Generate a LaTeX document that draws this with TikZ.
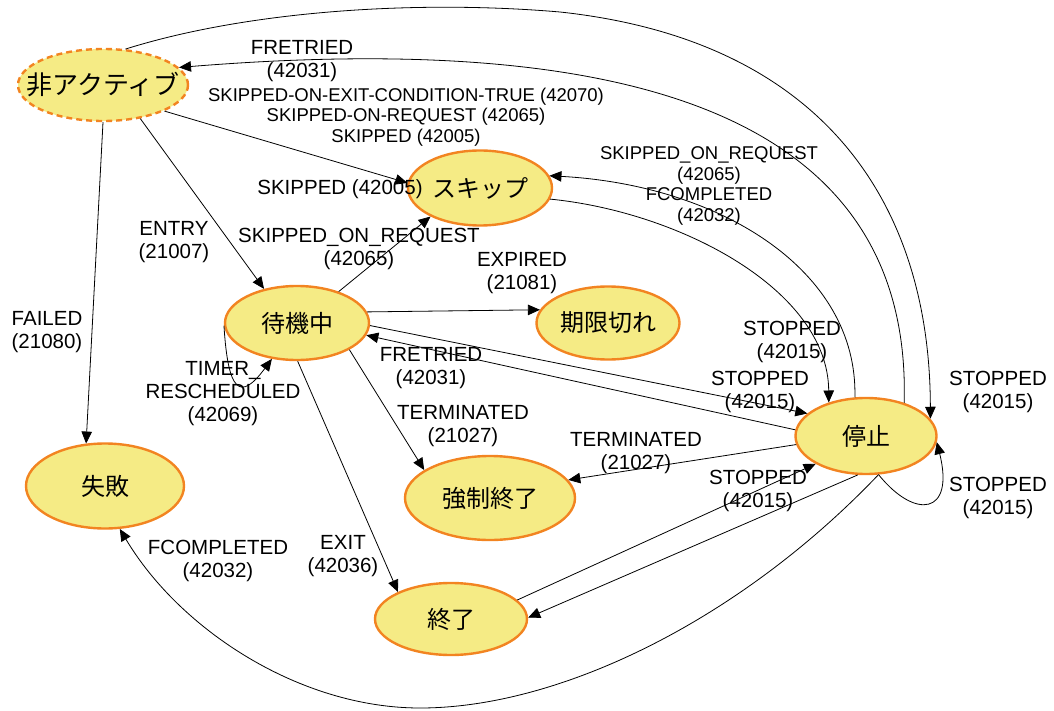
\documentclass[tikz,border=0pt]{standalone}
\usepackage{fontspec}
\setmainfont{Liberation Sans}
\newfontfamily\jp{Noto Sans CJK JP}
\usepackage{tikz}
\usetikzlibrary{arrows.meta,shapes.geometric}
\definecolor{stfill}{RGB}{245,235,133}
\definecolor{stedge}{RGB}{242,132,33}
\tikzset{
  stnode/.style={ellipse,draw=stedge,line width=2.4pt,fill=stfill,inner sep=0pt,font=\jp\fontsize{24}{28}\selectfont},
  stinit/.style={stnode,dash pattern=on 6pt off 4pt,inner xsep=-18pt,font=\jp\fontsize{26}{30}\selectfont},
  lbl/.style={align=center,inner sep=0pt,font=\fontsize{20.5}{23}\selectfont},
  slbl/.style={align=center,inner sep=0pt,font=\fontsize{18.5}{20.5}\selectfont},
  tr/.style={-{Triangle[length=12pt,width=10.5pt]},line width=0.8pt}
}

\begin{document}
\begin{tikzpicture}[x=1pt,y=-1pt]
  \useasboundingbox (0,0) rectangle (1054,711);
  % states
  \node[stinit,minimum width=170pt,minimum height=72pt] (inact) at (103,85) {非アクティブ};
  \node[stnode,minimum width=144pt,minimum height=75pt] (skip) at (480,188) {スキップ};
  \node[stnode,minimum width=144pt,minimum height=74pt] (wait) at (297,323) {待機中};
  \node[stnode,minimum width=143pt,minimum height=73pt] (expd) at (608,323) {期限切れ};
  \node[stnode,minimum width=158pt,minimum height=85pt] (fail) at (105,486) {失敗};
  \node[stnode,minimum width=170pt,minimum height=84pt] (kill) at (490,498) {強制終了};
  \node[stnode,minimum width=152pt,minimum height=72pt] (done) at (451,619) {終了};
  \node[stnode,minimum width=141pt,minimum height=76pt] (stop) at (866,436) {停止};
  % labels
  \node[lbl] (lfret1) at (302,61) {FRETRIED\\(42031)};
  \node[slbl] (lskip3) at (406,117) {SKIPPED-ON-EXIT-CONDITION-TRUE (42070)\\SKIPPED-ON-REQUEST (42065)\\SKIPPED (42005)};
  \node[lbl] (lskip1) at (340,189) {SKIPPED (42005)};
  \node[lbl] (lentry) at (174,242) {ENTRY\\(21007)};
  \node[lbl] (lsor) at (359,249) {SKIPPED\_ON\_REQUEST\\(42065)};
  \node[lbl] (lexp) at (522,273) {EXPIRED\\(21081)};
  \node[slbl] (lsorf) at (709,186) {SKIPPED\_ON\_REQUEST\\(42065)\\FCOMPLETED\\(42032)};
  \node[lbl] (lfail) at (47,332) {FAILED\\(21080)};
  \node[lbl] (lstop1) at (792,342) {STOPPED\\(42015)};
  \node[lbl] (lfret2) at (431,368) {FRETRIED\\(42031)};
  \node[lbl] (lstop2) at (760,392) {STOPPED\\(42015)};
  \node[lbl] (ltimer) at (223,394) {TIMER\_\\RESCHEDULED\\(42069)};
  \node[lbl] (lterm1) at (463,426) {TERMINATED\\(21027)};
  \node[lbl] (lstop3) at (998,392) {STOPPED\\(42015)};
  \node[lbl] (lterm2) at (636,453) {TERMINATED\\(21027)};
  \node[lbl] (lstop4) at (758,491) {STOPPED\\(42015)};
  \node[lbl] (lstop5) at (998,498) {STOPPED\\(42015)};
  \node[lbl] (lfcomp) at (218,561) {FCOMPLETED\\(42032)};
  \node[lbl] (lexit) at (343,556) {EXIT\\(42036)};
  % transitions
  \draw[tr] (inact.-90) -- (fail.114);
  \draw[tr] (inact.-42) -- (wait.134);
  \draw[tr] (inact.-23) -- (skip.176);
  \draw[tr] (wait.37) -- (skip.-150);
  \draw[tr] (wait.9) -- (expd.169);
  \draw[tr] (wait.-2) -- (stop.159);
  \draw[tr] (stop.175) -- (wait.-10);
  \draw[tr] (wait.-27) -- (kill.157);
  \draw[tr] (wait.-89) -- (done.153);
  \draw[tr] (wait.182) .. controls (228,392) and (240,402) .. (wait.-125);
  \draw[tr] (stop.187) -- (kill.13);
  \draw[tr] (done.16) -- (stop.-151);
  \draw[tr] (stop.-102) -- (done.1);
  \draw[tr] (stop.-72) .. controls (740,620) and (560,708) .. (420,708)
    .. controls (300,708) and (180,630) .. (fail.-71);
  \draw[tr] (stop.-72) .. controls (915,520) and (955,515) .. (stop.-5);
  \draw[tr] (skip.-9) .. controls (680,212) and (828,290) .. (stop.138);
  \draw[tr] (stop.106) .. controls (858,270) and (720,185) .. (skip.10);
  \draw[tr] (stop.41) .. controls (912,120) and (640,30) .. (inact.13);
  \draw[tr] (inact.58) .. controls (250,10) and (420,0) .. (560,12)
    .. controls (820,40) and (930,200) .. (stop.15);
\end{tikzpicture}
\end{document}
